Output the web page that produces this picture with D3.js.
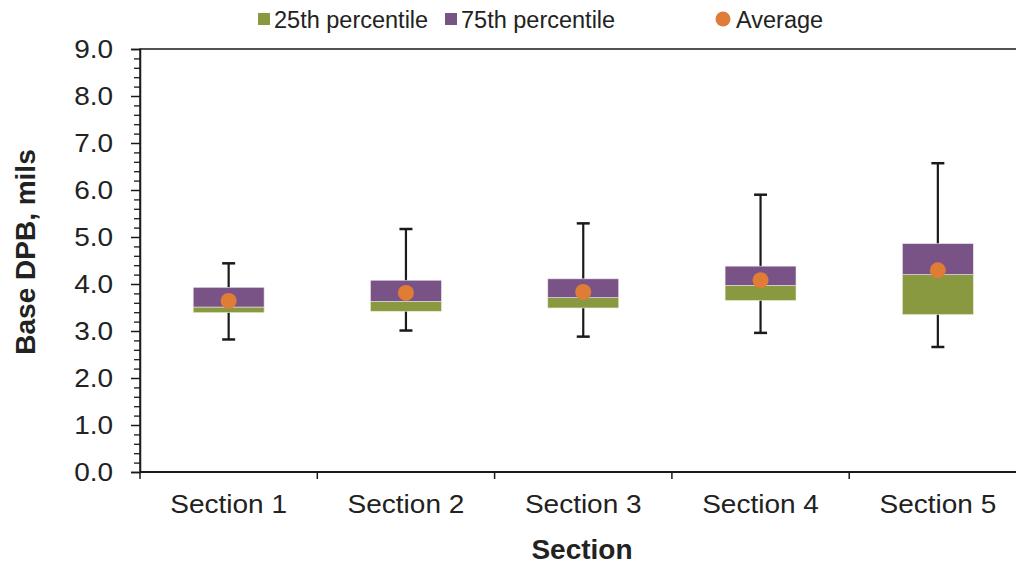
<!DOCTYPE html>
<html>
<head>
<meta charset="utf-8">
<script src="https://cdn.jsdelivr.net/npm/d3@7"></script>
<style>
  html, body { margin: 0; padding: 0; background: #fff; }
  svg { display: block; font-family: "Liberation Sans", Arial, sans-serif; }
</style>
</head>
<body>
<svg id="chart" width="1016" height="569"></svg>
<script>
// ---- data ----
const sections = ["Section 1", "Section 2", "Section 3", "Section 4", "Section 5"];
const minVals    = [2.82, 3.01, 2.88, 2.96, 2.66];
const q25Vals    = [3.39, 3.42, 3.49, 3.65, 3.35];
const medianVals = [3.51, 3.63, 3.71, 3.97, 4.20];
const q75Vals    = [3.93, 4.08, 4.11, 4.38, 4.86];
const maxVals    = [4.44, 5.17, 5.29, 5.90, 6.57];
const avgVals    = [3.64, 3.81, 3.83, 4.08, 4.29];
const yTicks = [0, 1, 2, 3, 4, 5, 6, 7, 8, 9];
const legendLabels = ["25th percentile", "75th percentile", "Average"];

const GREEN = "#88993f", PURPLE = "#7a5386", ORANGE = "#df7c36", INK = "#1a1a1a";

const svg = d3.select("#chart");
const pLeft = 140, pRight = 1026.5, pTop = 49, pBottom = 472;

const x = d3.scaleBand().domain(sections).range([pLeft, pRight]).paddingInner(0).paddingOuter(0);
const y = d3.scaleLinear().domain([0, 9]).range([pBottom, pTop]);

const rows = sections.map((s, i) => ({
  s, min: minVals[i], q25: q25Vals[i], med: medianVals[i], q75: q75Vals[i], max: maxVals[i], avg: avgVals[i]
}));

const bw = x.bandwidth() * 0.4;
const cx = d => x(d.s) + x.bandwidth() / 2;

// plot border (top edge; right edge falls outside the view)
svg.append("rect")
  .attr("x", pLeft).attr("y", pTop)
  .attr("width", pRight - pLeft).attr("height", pBottom - pTop)
  .attr("fill", "none").attr("stroke", INK).attr("stroke-width", 1.5);

// whiskers
const g = svg.append("g");
g.selectAll("line.whisk").data(rows).join("line")
  .attr("x1", cx).attr("x2", cx)
  .attr("y1", d => y(d.max)).attr("y2", d => y(d.min))
  .attr("stroke", INK).attr("stroke-width", 2.2);
["min", "max"].forEach(k => {
  g.selectAll("line.cap-" + k).data(rows).join("line")
    .attr("x1", d => cx(d) - 6.5).attr("x2", d => cx(d) + 6.5)
    .attr("y1", d => y(d[k])).attr("y2", d => y(d[k]))
    .attr("stroke", INK).attr("stroke-width", 2.5);
});

// boxes
g.selectAll("rect.low").data(rows).join("rect")
  .attr("x", d => cx(d) - bw / 2).attr("width", bw)
  .attr("y", d => y(d.med)).attr("height", d => y(d.q25) - y(d.med))
  .attr("fill", GREEN).attr("stroke", "#e8ecd8").attr("stroke-width", 0.6);
g.selectAll("rect.high").data(rows).join("rect")
  .attr("x", d => cx(d) - bw / 2).attr("width", bw)
  .attr("y", d => y(d.q75)).attr("height", d => y(d.med) - y(d.q75))
  .attr("fill", PURPLE).attr("stroke", "#ebe4ee").attr("stroke-width", 0.6);

// averages
g.selectAll("circle.avg").data(rows).join("circle")
  .attr("cx", cx).attr("cy", d => y(d.avg)).attr("r", 8)
  .attr("fill", ORANGE);

// y axis
const SX = 1.12;
const yAxis = svg.append("g").attr("transform", `translate(${pLeft},0)`)
  .call(d3.axisLeft(y).tickValues(yTicks).tickSize(9).tickPadding(15).tickFormat(d3.format(".1f")));
yAxis.select(".domain").attr("stroke", INK).attr("stroke-width", 1.5);
yAxis.selectAll(".tick line").attr("stroke", INK).attr("stroke-width", 1.5);
yAxis.selectAll(".tick text").attr("font-size", 25).attr("fill", "#222")
  .attr("transform", `scale(${SX},1)`);
const minorTicks = d3.range(0, 9.0001, 0.2).filter(v => Math.abs(v - Math.round(v)) > 1e-6);
const yMinor = svg.append("g").attr("transform", `translate(${pLeft},0)`)
  .call(d3.axisLeft(y).tickValues(minorTicks).tickSize(6).tickFormat(""));
yMinor.select(".domain").remove();
yMinor.selectAll(".tick line").attr("stroke", INK).attr("stroke-width", 1.3);

// x axis
svg.append("line").attr("x1", pLeft).attr("x2", pRight).attr("y1", pBottom).attr("y2", pBottom)
  .attr("stroke", INK).attr("stroke-width", 2);
const bounds = sections.map(s => x(s)).concat([x.range()[1]]);
svg.selectAll("line.xt").data(bounds).join("line")
  .attr("x1", d => d).attr("x2", d => d).attr("y1", pBottom).attr("y2", pBottom + 7)
  .attr("stroke", INK).attr("stroke-width", 1.5);
const xAxis = svg.append("g").attr("transform", `translate(0,${pBottom})`)
  .call(d3.axisBottom(x).tickSize(0).tickPadding(23));
xAxis.select(".domain").remove();
xAxis.selectAll(".tick text").attr("font-size", 25).attr("fill", "#222")
  .attr("transform", `scale(${SX},1)`);

// axis titles
svg.append("text").attr("x", 582).attr("y", 559)
  .attr("text-anchor", "middle").attr("font-size", 28).attr("font-weight", "bold").attr("fill", "#222")
  .text("Section");
svg.append("text").attr("transform", "translate(35,252) rotate(-90)")
  .attr("text-anchor", "middle").attr("font-size", 28).attr("font-weight", "bold").attr("fill", "#222")
  .text("Base DPB, mils");

// legend
const leg = svg.append("g");
const legX = [258, 445, 723];
leg.append("rect").attr("x", legX[0]).attr("y", 13).attr("width", 12).attr("height", 12).attr("fill", GREEN);
leg.append("rect").attr("x", legX[1]).attr("y", 13).attr("width", 12).attr("height", 12).attr("fill", PURPLE);
leg.append("circle").attr("cx", legX[2]).attr("cy", 19).attr("r", 7.5).attr("fill", ORANGE);
const legTextX = [274, 461, 736];
legendLabels.forEach((t, i) => {
  leg.append("text").attr("x", legTextX[i]).attr("y", 28)
    .attr("font-size", 23.5).attr("fill", "#222").text(t);
});
</script>
</body>
</html>
